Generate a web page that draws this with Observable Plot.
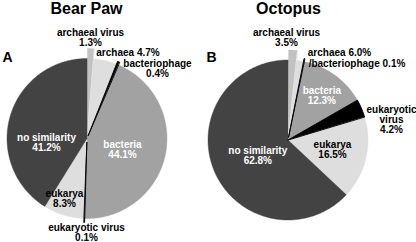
<!DOCTYPE html>
<html><head><meta charset="utf-8">
<script src="https://cdn.jsdelivr.net/npm/d3@7"></script>
<script src="https://cdn.jsdelivr.net/npm/@observablehq/plot@0.6"></script>
<style>body{margin:0;background:#fff}svg{display:block}</style>
</head><body><div id="chart"></div>
<script>
// ---- data ----
const categories = ["archaeal virus","archaea","bacteriophage","bacteria","eukaryotic virus","eukarya","no similarity"];
const titles = ["Bear Paw","Octopus"];
const panels = ["A","B"];
// slice shares as drawn
const bearPawValues = [1.3, 4.7, 0.4, 44.1, 0.1, 8.3, 41.2];
const octopusValues = [1.7, 1.4, 0.1, 13.5, 3.6, 16.7, 63.0];
// printed percentages
const bearPawLabels = ["1.3%","4.7%","0.4%","44.1%","0.1%","8.3%","41.2%"];
const octopusLabels = ["3.5%","6.0%","0.1%","12.3%","4.2%","16.5%","62.8%"];

// ---- style / layout ----
const greys = ["#c2c2c2","#dedede","#000000","#a2a2a2","#000000","#dedede","#434343"];
const textColors = ["#000","#000","#000","#fff","#000","#000","#fff"];
const font = "'Liberation Sans', Arial, Helvetica, sans-serif";
const R = 80;
const layout = [
  {cx: 86.5, cy: 138, explode: [10,0,3,0,4,0,0],
   fmt: [(c,p)=>c+"\n"+p,(c,p)=>c+" "+p,(c,p)=>c+"\n"+p,(c,p)=>c+"\n"+p,(c,p)=>c+"\n"+p,(c,p)=>c+"\n"+p,(c,p)=>c+"\n"+p],
   off: [[3.5,-101],[41,-85.3],[70.5,-69.5],[35.5,11],[-0.5,94],[-22.5,60],[-40.5,4]],
   titleX: 86, letterX: 7},
  {cx: 287.5, cy: 139.5, explode: [10,0,3,0,0,0,0],
   fmt: [(c,p)=>c+"\n"+p,(c,p)=>c+" "+p,(c,p)=>"/"+c+" "+p,(c,p)=>c+"\n"+p,(c,p)=>"eukaryotic\nvirus\n"+p,(c,p)=>c+"\n"+p,(c,p)=>c+"\n"+p],
   off: [[-1.5,-102.5],[51.5,-87.5],[69,-76.5],[33.8,-44.5],[103.5,-20.5],[44.5,9.5],[-30.2,15.5]],
   titleX: 288, letterX: 211}
];
const valueSets = [bearPawValues, octopusValues];
const labelSets = [bearPawLabels, octopusLabels];

// ---- build slice outlines ----
const slices = [];
const labels = [];
const heads = [];
valueSets.forEach((values, p) => {
  const L = layout[p];
  const total = d3.sum(values);
  let acc = 0;
  values.forEach((v, i) => {
    const a0 = acc / total * 2 * Math.PI; acc += v;
    const a1 = acc / total * 2 * Math.PI;
    const mid = (a0 + a1) / 2, e = L.explode[i];
    const ox = L.cx + e * Math.sin(mid), oy = L.cy - e * Math.cos(mid);
    const key = p + "-" + i;
    const order = greys[i] === "#000000" ? 1 : 0;
    const pts = [{key, cat: categories[i], order, x: ox, y: oy}];
    const n = Math.max(2, Math.ceil((a1 - a0) / (Math.PI / 180)));
    for (let j = 0; j <= n; j++) {
      const a = a0 + (a1 - a0) * j / n;
      pts.push({key, cat: categories[i], order, x: ox + R * Math.sin(a), y: oy - R * Math.cos(a)});
    }
    slices.push(...pts);
    labels.push({x: L.cx + L.off[i][0], y: L.cy + L.off[i][1],
      text: L.fmt[i](categories[i], labelSets[p][i]), color: textColors[i]});
  });
  heads.push({x: L.titleX, y: 8.4, text: titles[p], size: 16});
  heads.push({x: L.letterX, y: 57.5, text: panels[p], size: 14});
});
slices.sort((a, b) => a.order - b.order);

const chart = Plot.plot({
  width: 416, height: 242, margin: 0,
  x: {domain: [0, 416], range: [0, 416], axis: null},
  y: {domain: [0, 242], range: [0, 242], axis: null},
  color: {domain: categories, range: greys},
  style: {fontFamily: font, background: "#fff"},
  marks: [
    Plot.line(slices, {x: "x", y: "y", z: "key", fill: "cat", stroke: "cat",
      strokeWidth: d => d.order ? 0.9 : 0.4, curve: "linear-closed"}),
    Plot.text(labels, {x: "x", y: "y", text: "text", fill: "color",
      fontSize: 10, fontWeight: "bold", lineHeight: 1}),
    Plot.text(heads, {x: "x", y: "y", text: "text", fontSize: d => d.size,
      fontWeight: "bold", fill: "#000"})
  ]
});
document.getElementById("chart").append(chart);
</script>
</body></html>
